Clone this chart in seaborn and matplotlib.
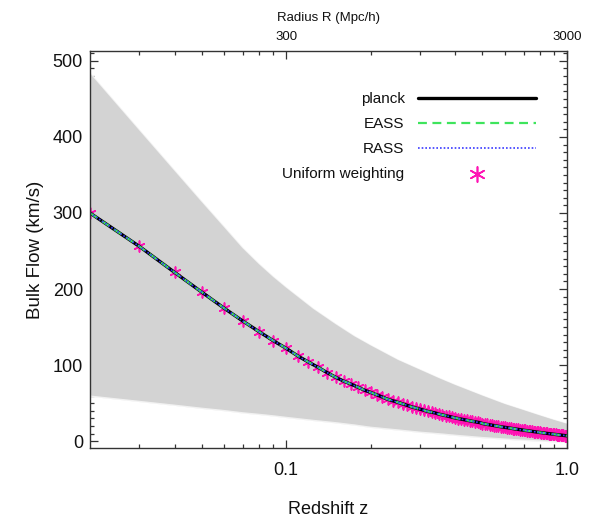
import numpy as np
import pandas as pd
import matplotlib
matplotlib.use("Agg")
import matplotlib.pyplot as plt
import seaborn as sns

# ---------------- data ----------------
z_vals = [0.02, 0.03, 0.04, 0.05, 0.06, 0.07, 0.08, 0.09, 0.10,
          0.11, 0.12, 0.13, 0.14, 0.15, 0.16, 0.17, 0.18, 0.19, 0.20,
          0.21, 0.22, 0.23, 0.24, 0.25, 0.26, 0.27, 0.28, 0.29, 0.30,
          0.31, 0.32, 0.33, 0.34, 0.35, 0.36, 0.37, 0.38, 0.39, 0.40,
          0.41, 0.42, 0.43, 0.44, 0.45, 0.46, 0.47, 0.48, 0.49, 0.50,
          0.51, 0.52, 0.53, 0.54, 0.55, 0.56, 0.57, 0.58, 0.59, 0.60,
          0.61, 0.62, 0.63, 0.64, 0.65, 0.66, 0.67, 0.68, 0.69, 0.70,
          0.71, 0.72, 0.73, 0.74, 0.75, 0.76, 0.77, 0.78, 0.79, 0.80,
          0.81, 0.82, 0.83, 0.84, 0.85, 0.86, 0.87, 0.88, 0.89, 0.90,
          0.91, 0.92, 0.93, 0.94, 0.95, 0.96, 0.97, 0.98, 0.99, 1.00]

planck_v = [300, 256, 222, 196, 175, 158, 144, 132, 122,
            112, 104, 97, 90, 84, 79, 75, 71, 67, 64,
            61, 58, 55, 53, 51, 49, 47, 45, 43.5, 42,
            40.5, 39, 38, 37, 35.5, 34.5, 33.5, 32.5, 31.5, 30.5,
            29.7, 29.0, 28.2, 27.5, 26.8, 26.1, 25.5, 24.9, 24.3, 23.2,
            22.6, 22.0, 21.5, 21.0, 20.5, 20.0, 19.5, 19.0, 18.6, 18.2,
            17.8, 17.4, 17.0, 16.6, 16.2, 15.8, 15.5, 15.1, 14.8, 14.4,
            14.1, 13.8, 13.5, 13.2, 12.9, 12.6, 12.3, 12.0, 11.7, 11.4,
            11.2, 10.9, 10.7, 10.4, 10.2, 9.9, 9.7, 9.5, 9.2, 9.0,
            8.8, 8.6, 8.4, 8.2, 8.0, 7.8, 7.6, 7.4, 7.2, 7.0]

# EASS, RASS and uniform weighting are visually identical to planck
eass_v = list(planck_v)
rass_v = list(planck_v)
uniform_v = list(planck_v)

band_z = [0.02, 0.03, 0.04, 0.05, 0.06, 0.07, 0.08, 0.09, 0.10, 0.125,
          0.15, 0.175, 0.20, 0.25, 0.30, 0.35, 0.40, 0.50, 0.60, 0.70,
          0.80, 0.90, 1.00]
band_upper = [485, 410, 357, 316, 283, 255, 234, 217, 203, 175,
              155, 139, 127, 108, 95, 84, 75, 61, 50, 42,
              35, 29, 24]
band_lower = [59, 52, 47, 43, 40, 37, 35, 33, 31, 27,
              24, 21, 18, 14.5, 11.5, 9.5, 7.5, 4.5, 2.5, 1.0,
              0.0, -1.0, -2.0]

series_labels = ["planck", "EASS", "RASS", "Uniform weighting"]
x_major = [0.1, 1.0]
x_major_labels = ["0.1", "1.0"]
x_minor = [0.03, 0.04, 0.05, 0.06, 0.07, 0.08, 0.09,
           0.2, 0.3, 0.4, 0.5, 0.6, 0.7, 0.8, 0.9]
y_major = [0, 100, 200, 300, 400, 500]
top_major = [300, 3000]
top_major_labels = ["300", "3000"]

# ---------------- style ----------------
sns.set_style("ticks")
plt.rcParams["font.family"] = ["Liberation Sans", "DejaVu Sans"]

fig = plt.figure(figsize=(5.94, 5.19), dpi=100)
ax = fig.add_axes([90 / 594, 1 - 448 / 519, 477 / 594, 397 / 519])

magenta = "#ff14b4"
green = "#3ee45c"
blue = "#3a3aff"
frame = "#333333"
txt = "#111111"

df = pd.DataFrame({"z": z_vals, "planck": planck_v, "eass": eass_v,
                   "rass": rass_v, "uniform": uniform_v})

# grey band
ax.fill_between(band_z, band_lower, band_upper, color="#d3d3d3",
                linewidth=0, zorder=1)
ax.plot(band_z, band_upper, color="white", lw=1.2, alpha=0.7, zorder=1.1)
ax.plot(band_z, band_lower, color="white", lw=1.2, alpha=0.7, zorder=1.1)

# uniform weighting markers
sns.scatterplot(data=df, x="z", y="uniform", ax=ax, marker=(6, 2, 0),
                color=magenta, s=60, linewidth=1.2, zorder=3,
                label=series_labels[3], legend=False)
sns.lineplot(data=df, x="z", y="planck", ax=ax, color="black", lw=2.4,
             zorder=4, label=series_labels[0], legend=False)
sns.lineplot(data=df, x="z", y="eass", ax=ax, color=green, lw=1.6,
             linestyle=(0, (4, 2.5)), zorder=5, label=series_labels[1],
             legend=False)
sns.lineplot(data=df, x="z", y="rass", ax=ax, color=blue, lw=1.2,
             linestyle=(0, (1, 1.2)), zorder=6, label=series_labels[2],
             legend=False)

# ---------------- axes ----------------
ax.set_xscale("log")
ax.set_xlim(0.02, 1.0)
ax.set_ylim(-9, 513)

ax.set_xticks(x_major)
ax.set_xticklabels(x_major_labels)
ax.set_xticks(x_minor, minor=True)
ax.xaxis.set_minor_formatter(matplotlib.ticker.NullFormatter())
ax.set_yticks(y_major)
ax.set_yticks(np.arange(0, 511, 10), minor=True)

ax.tick_params(which="both", direction="in", top=True, right=True,
               color=frame, width=0.9, labelsize=13, labelcolor=txt)
ax.tick_params(which="major", length=6)
ax.tick_params(which="minor", length=3)
ax.tick_params(axis="x", which="major", pad=10)
ax.tick_params(axis="y", which="major", pad=5)

for sp in ax.spines.values():
    sp.set_color(frame)
    sp.set_linewidth(1.0)
    sp.set_zorder(7)

ax.set_xlabel("Redshift z", fontsize=13, labelpad=16, color=txt)
ax.set_ylabel("Bulk Flow (km/s)", fontsize=13.5, labelpad=6, color=txt)

# top axis: radius R = 3000 z Mpc/h
sec = ax.secondary_xaxis("top", functions=(lambda z: 3000 * z,
                                           lambda r: r / 3000))
sec.set_xticks(top_major)
sec.set_xticklabels(top_major_labels)
sec.xaxis.set_minor_locator(matplotlib.ticker.NullLocator())
sec.tick_params(length=0, labelsize=9.5, pad=6, labelcolor=txt)
sec.spines["top"].set_visible(False)
sec.set_xlabel("Radius R (Mpc/h)", fontsize=9.5, labelpad=7, color=txt)

# legend
handles, labels = ax.get_legend_handles_labels()
order = [labels.index(l) for l in series_labels]
leg = ax.legend([handles[i] for i in order], [labels[i] for i in order],
                loc="upper right", bbox_to_anchor=(0.935, 0.897),
                frameon=False, markerfirst=False, fontsize=11,
                handlelength=7.7, handletextpad=0.9, labelspacing=0.72,
                borderpad=0, borderaxespad=0, markerscale=1.4)
for t in leg.get_texts():
    t.set_color(txt)

fig.savefig("out.png", dpi=100)
